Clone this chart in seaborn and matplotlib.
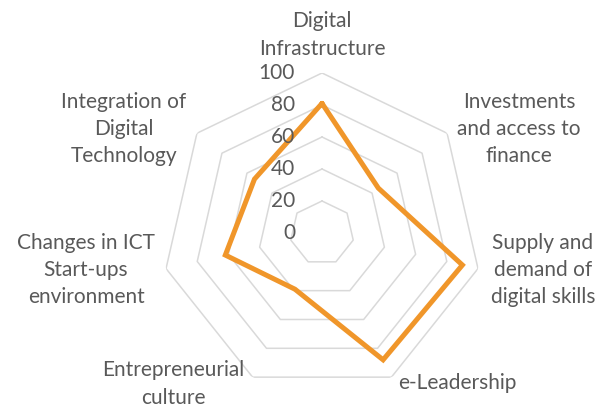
import numpy as np
import pandas as pd
import matplotlib.pyplot as plt
import matplotlib.transforms as mtransforms
import seaborn as sns

# Chart data
categories = [
    "Digital\nInfrastructure",
    "Investments\nand access to\nfinance",
    "Supply and\ndemand of\ndigital skills",
    "e-Leadership",
    "Entrepreneurial\nculture",
    "Changes in ICT\nStart-ups\nenvironment",
    "Integration of\nDigital\nTechnology",
]
scores = [81, 45, 90, 88, 39, 62, 54]
ring_levels = [20, 40, 60, 80, 100]
tick_values = [0, 20, 40, 60, 80, 100]

# label centres in figure fraction (Excel-like placement)
label_pos = [
    (0.528, 0.914),
    (0.851, 0.684),
    (0.890, 0.338),
    (0.749, 0.061),
    (0.284, 0.059),
    (0.141, 0.338),
    (0.203, 0.684),
]

TEXT_COLOR = "#595959"
GRID_COLOR = "#d9d9d9"
LINE_COLOR = "#F0962A"

sns.set_theme(style="white")
plt.rcParams["font.family"] = ["Lato", "DejaVu Sans"]

n = len(categories)
df = pd.DataFrame({"category": categories, "score": scores})
df["theta"] = np.arange(n) * 2 * np.pi / n
closed = pd.concat([df, df.iloc[:1].assign(theta=2 * np.pi)], ignore_index=True)


def main():
    fig = plt.figure(figsize=(6.1, 4.08), dpi=100)
    ax = fig.add_axes([0.2656, 0.0368, 0.5246, 0.7843], projection="polar")
    ax.set_theta_offset(np.pi / 2)
    ax.set_theta_direction(-1)

    # heptagon gridlines
    for lvl in ring_levels:
        ax.plot(closed["theta"], [lvl] * len(closed), color=GRID_COLOR, lw=1.1, zorder=1)

    sns.lineplot(data=closed, x="theta", y="score", sort=False, estimator=None,
                 color=LINE_COLOR, lw=3.6, ax=ax, zorder=3)
    for line in ax.lines[-1:]:
        line.set_solid_joinstyle("miter")

    ax.set_ylim(0, 100)
    ax.grid(False)
    ax.spines["polar"].set_visible(False)
    ax.set_xticks([])
    ax.set_yticks([])
    ax.set_xlabel("")
    ax.set_ylabel("")

    # value axis labels, right of the vertical axis
    off = mtransforms.offset_copy(ax.transData, fig=fig, x=-27, y=0, units="dots")
    for v in tick_values:
        ax.text(0, v, str(v), transform=off, ha="right", va="center",
                fontsize=15, color=TEXT_COLOR)

    for lab, (x, y) in zip(categories, label_pos):
        fig.text(x, y, lab, ha="center", va="center", fontsize=15,
                 color=TEXT_COLOR, linespacing=1.45)

    fig.savefig("out.png", dpi=100)


if __name__ == "__main__":
    main()
